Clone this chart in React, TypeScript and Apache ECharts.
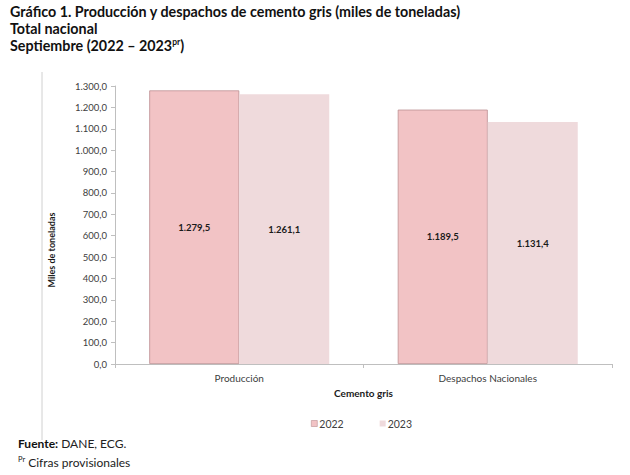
import React, { useEffect, useRef } from "react";
import * as echarts from "echarts";

const categories = ["Producción", "Despachos Nacionales"];
const series2022 = [1279.5, 1189.5];
const series2023 = [1261.1, 1131.4];
const seriesNames = ["2022", "2023"];
const yMin = 0;
const yMax = 1300;
const yInterval = 100;

const FONT = "Lato, 'Open Sans', sans-serif";

const fmt = (v: number) => {
  const fixed = v.toFixed(1);
  const [i, d] = fixed.split(".");
  const withDots = i.replace(/\B(?=(\d{3})+(?!\d))/g, ".");
  return `${withDots},${d}`;
};

export default function App() {
  const ref = useRef<HTMLDivElement>(null);
  useEffect(() => {
    if (!ref.current) return;
    const chart = echarts.init(ref.current, null, { renderer: "svg" });
    const labelStyle = {
      show: true,
      position: "inside" as const,
      formatter: (p: any) => fmt(p.value),
      color: "#1a1a1a",
      fontWeight: "bold" as const,
      fontSize: 9.5,
      fontFamily: FONT,
    };
    chart.setOption({
      animation: false,
      backgroundColor: "#ffffff",
      textStyle: { fontFamily: FONT },
      grid: { left: 115, right: 18, top: 86, bottom: 111, containLabel: false },
      legend: {
        data: seriesNames,
        left: 306,
        top: 413,
        itemWidth: 6,
        itemHeight: 6,
        itemGap: 36,
        icon: "rect",
        itemStyle: { borderWidth: 0.6 },
        textStyle: { fontSize: 10.5, color: "#404040", fontFamily: FONT, padding: [0, 0, 0, -3] },
      },
      xAxis: {
        type: "category",
        data: categories,
        name: "Cemento gris",
        nameLocation: "middle",
        nameGap: 24,
        nameTextStyle: { fontSize: 10, fontWeight: "bold", color: "#1a1a1a", fontFamily: FONT },
        axisLine: { lineStyle: { color: "#bfbfbf", width: 1 } },
        axisTick: { show: true, length: 4, lineStyle: { color: "#bfbfbf" } },
        axisLabel: { fontSize: 10, color: "#404040", margin: 9, fontFamily: FONT },
      },
      yAxis: {
        type: "value",
        min: yMin,
        max: yMax,
        interval: yInterval,
        axisLine: { show: true, lineStyle: { color: "#bfbfbf", width: 1 } },
        axisTick: { show: true, length: 4, lineStyle: { color: "#bfbfbf" } },
        splitLine: { show: false },
        axisLabel: {
          fontSize: 9.5,
          color: "#404040",
          margin: 8,
          fontFamily: FONT,
          formatter: (v: number) => fmt(v),
        },
      },
      series: [
        {
          name: seriesNames[0],
          type: "bar",
          data: series2022,
          barWidth: 90,
          barGap: "0%",
          itemStyle: { color: "#f2c3c5", borderColor: "#bb8f92", borderWidth: 0.8 },
          label: labelStyle,
        },
        {
          name: seriesNames[1],
          type: "bar",
          data: series2023,
          barWidth: 90,
          barGap: "0%",
          itemStyle: { color: "#efdadc" },
          label: labelStyle,
        },
      ],
      graphic: [
        {
          type: "text",
          left: 10,
          top: 4,
          style: {
            text:
              "{b|Gráfico 1. Producción y despachos de cemento gris (miles de toneladas)}\n{b|Total nacional}\n{b|Septiembre (2022 – 2023}{sup|pr}{b|)}",
            rich: {
              b: { fontFamily: FONT, fontWeight: "bold", fontSize: 14.3, fill: "#111", lineHeight: 17 },
              sup: { fontFamily: FONT, fontWeight: "bold", fontSize: 8.5, fill: "#111", lineHeight: 17, padding: [0, 0, 7, 0] },
            },
          },
        },
        {
          type: "line",
          shape: { x1: 42, y1: 72, x2: 42, y2: 440 },
          style: { stroke: "#d0d0d0", lineWidth: 1 },
        },
        {
          type: "text",
          x: 51,
          y: 250,
          rotation: Math.PI / 2,
          style: {
            text: "Miles de toneladas",
            fontFamily: FONT,
            fontWeight: "bold",
            fontSize: 9,
            fill: "#1a1a1a",
            align: "center",
            verticalAlign: "middle",
          },
        },
        {
          type: "text",
          x: 18,
          y: 443,
          style: {
            text: "{b|Fuente:}{n| DANE, ECG.}",
            verticalAlign: "middle",
            rich: {
              b: { fontFamily: FONT, fontWeight: "bold", fontSize: 12, fill: "#111" },
              n: { fontFamily: FONT, fontSize: 12, fill: "#222" },
            },
          },
        },
        {
          type: "text",
          x: 18,
          y: 462,
          style: {
            text: "{s|Pr}{n| Cifras provisionales}",
            verticalAlign: "middle",
            rich: {
              s: { fontFamily: FONT, fontSize: 7.5, fill: "#222", padding: [0, 0, 6, 0] },
              n: { fontFamily: FONT, fontSize: 12, fill: "#222" },
            },
          },
        },
      ],
    });
    return () => chart.dispose();
  }, []);
  return (
    <div
      ref={ref}
      style={{ position: "fixed", left: 0, top: 0, width: 630, height: 475, background: "#fff" }}
    />
  );
}
